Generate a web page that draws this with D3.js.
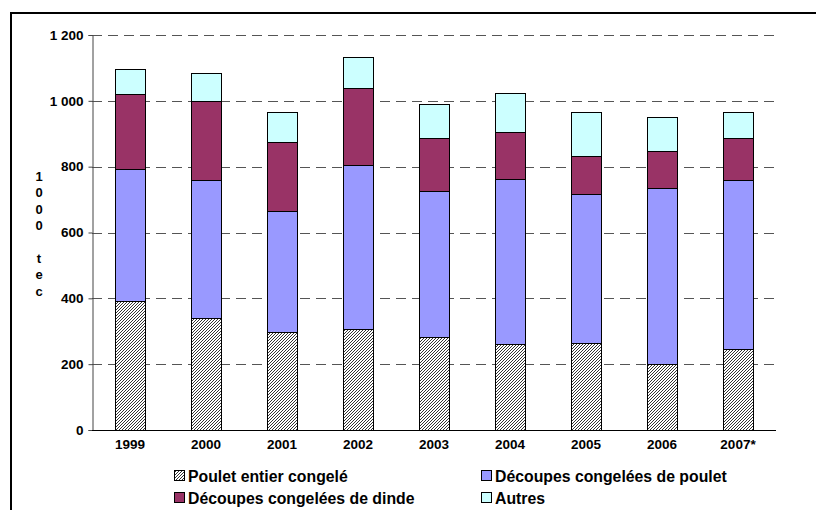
<!DOCTYPE html>
<html>
<head>
<meta charset="utf-8">
<script src="https://cdn.jsdelivr.net/npm/d3@7"></script>
<style>
  html, body { margin: 0; padding: 0; background: #fff; }
  svg { display: block; font-family: "Liberation Sans", Arial, sans-serif; font-weight: bold; }
</style>
</head>
<body>
<svg id="chart" width="816" height="510"></svg>
<script>
// Années et volumes (milliers de tonnes équivalent carcasse)
const years = ["1999", "2000", "2001", "2002", "2003", "2004", "2005", "2006", "2007*"];
const pouletEntier = [392, 341, 298, 307, 284, 260, 263, 201, 246];
const decoupesPoulet = [402, 419, 368, 498, 442, 504, 453, 535, 514];
const decoupesDinde = [226, 239, 209, 234, 161, 140, 117, 113, 127];
const autres = [76, 85, 92, 95, 102, 121, 134, 102, 80];
const yTicks = [0, 200, 400, 600, 800, 1000, 1200];
const seriesNames = ["Poulet entier congelé", "Découpes congelées de poulet", "Découpes congelées de dinde", "Autres"];
const seriesColors = ["url(#hatch)", "#9999FF", "#993366", "#CCFFFF"];

const svg = d3.select("#chart");

// hachures diagonales fines du poulet entier (motif pixel)
const defs = svg.append("defs");
const pat = defs.append("pattern")
  .attr("id", "hatch").attr("patternUnits", "userSpaceOnUse")
  .attr("width", 3).attr("height", 3);
pat.append("rect").attr("width", 3).attr("height", 3).attr("fill", "#fff");
[[0, 2], [1, 1], [2, 0]].forEach(([px, py]) => {
  pat.append("rect").attr("x", px).attr("y", py).attr("width", 1).attr("height", 1)
    .attr("fill", "#333").attr("shape-rendering", "crispEdges");
});

// cadre
svg.append("path").attr("d", "M11,520 V13 H830").attr("fill", "none")
  .attr("stroke", "#000").attr("stroke-width", 2);

const plot = { left: 92, right: 776, top: 35, bottom: 430 };

const x = d3.scaleBand().domain(years).range([plot.left, plot.right]).paddingInner(0.6).paddingOuter(0.3);
const y = d3.scaleLinear().domain([0, 1200]).range([plot.bottom, plot.top]);

// grille
svg.append("g").selectAll("line").data(yTicks.filter(d => d > 0)).join("line")
  .attr("x1", plot.left).attr("x2", plot.right)
  .attr("y1", d => Math.round(y(d)) + 0.5).attr("y2", d => Math.round(y(d)) + 0.5)
  .attr("stroke", "#555").attr("stroke-width", 1).attr("stroke-dasharray", "10,6");

// barres empilées
const rows = years.map((yr, i) => ({
  year: yr,
  s0: pouletEntier[i], s1: decoupesPoulet[i], s2: decoupesDinde[i], s3: autres[i]
}));
const stack = d3.stack().keys(["s0", "s1", "s2", "s3"])(rows);

svg.append("g").selectAll("g").data(stack).join("g")
  .attr("fill", (d, i) => seriesColors[i])
  .selectAll("rect").data(d => d).join("rect")
  .attr("x", d => Math.round(x(d.data.year)) + 0.5)
  .attr("width", Math.round(x.bandwidth()))
  .attr("y", d => Math.round(y(d[1])) + 0.5)
  .attr("height", d => Math.round(y(d[0])) - Math.round(y(d[1])))
  .attr("stroke", "#000").attr("stroke-width", 1);

// axe vertical
const yAxis = d3.axisLeft(y).tickValues(yTicks).tickSize(4)
  .tickFormat(d => d3.format(",")(d).replace(",", " "));
const gy = svg.append("g").attr("transform", `translate(${plot.left + 0.5},0)`).call(yAxis);
gy.select(".domain").attr("stroke", "#444");
gy.selectAll(".tick line").attr("stroke", "#444");
gy.selectAll("text").attr("font-size", 13.5).attr("font-weight", "bold").attr("fill", "#000")
  .attr("font-family", "Liberation Sans, Arial, sans-serif").attr("x", -9);

// axe horizontal
const xAxis = d3.axisBottom(x).tickSize(0).tickPadding(9);
const gx = svg.append("g").attr("transform", `translate(0,${plot.bottom + 0.5})`).call(xAxis);
gx.select(".domain").attr("stroke", "#000").attr("d", `M${plot.left},0H${plot.right}`);
gx.selectAll("text").attr("font-size", 13.5).attr("font-weight", "bold").attr("fill", "#000")
  .attr("font-family", "Liberation Sans, Arial, sans-serif");

// titre de l'axe vertical, lettres empilées
const yTitle = ["1", "0", "0", "0", "", "t", "e", "c"];
svg.append("g").selectAll("text").data(yTitle).join("text")
  .attr("x", 39).attr("y", (d, i) => 181 + i * 16.4)
  .attr("text-anchor", "middle").attr("font-size", 13).text(d => d);

// légende
const legendPos = [[174, 476], [481, 476], [174, 498], [481, 498]];
const lg = svg.append("g").selectAll("g").data(seriesNames).join("g")
  .attr("transform", (d, i) => `translate(${legendPos[i][0]},${legendPos[i][1]})`);
lg.append("rect").attr("x", 0.5).attr("y", -5.5).attr("width", 10).attr("height", 10)
  .attr("fill", (d, i) => seriesColors[i]).attr("stroke", "#000").attr("stroke-width", 1);
lg.append("text").attr("x", 14).attr("y", 5.5).attr("font-size", 15.8).text(d => d);
</script>
</body>
</html>
